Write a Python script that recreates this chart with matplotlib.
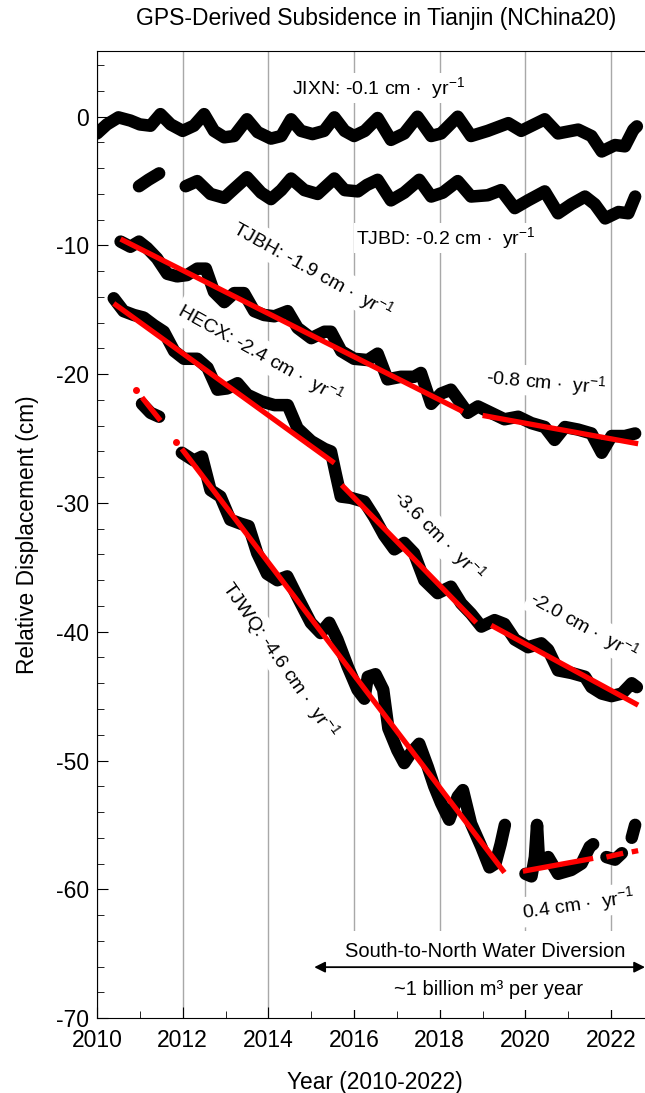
import numpy as np
import matplotlib
matplotlib.use('Agg')
import matplotlib.pyplot as plt
from matplotlib.ticker import MultipleLocator
from matplotlib.patches import Rectangle

plt.rcParams['font.family'] = ['Liberation Sans', 'DejaVu Sans']
plt.rcParams['mathtext.fontset'] = 'custom'
plt.rcParams['mathtext.rm'] = 'Liberation Sans'
plt.rcParams['mathtext.it'] = 'Liberation Sans:italic'
plt.rcParams['axes.unicode_minus'] = False

nan = np.nan

# GPS series (year, displacement in cm); nan = data gap
jixn_t = [2010.0, 2010.23, 2010.5, 2010.78, 2011.0, 2011.25, 2011.48, 2011.72, 2012.0, 2012.26,
          2012.5, 2012.73, 2012.97, 2013.2, 2013.5, 2013.75, 2014.06, 2014.3, 2014.53, 2014.76,
          2015.03, 2015.3, 2015.54, 2015.78, 2016.0, 2016.25, 2016.55, 2016.86, 2017.17, 2017.48,
          2017.8, 2018.03, 2018.42, 2018.73, 2019.12, 2019.6, 2019.9, 2020.45, 2020.76, 2021.23,
          2021.54, 2021.78, 2022.09, 2022.32, 2022.52, 2022.6]
jixn_v = [-1.3, -0.6, -0.05, -0.3, -0.6, -0.7, 0.2, -0.6, -1.1, -0.7,
          0.2, -1.1, -1.6, -1.5, -0.2, -1.2, -1.7, -1.5, -0.2, -1.1,
          -1.35, -1.1, -0.05, -1.1, -1.5, -1.1, -0.1, -1.8, -1.3, 0.0,
          -1.5, -1.3, 0.0, -1.5, -1.1, -0.5, -1.1, -0.2, -1.3, -1.0,
          -1.5, -2.7, -2.2, -2.3, -1.0, -0.75]

tjbd_t = [2010.98, 2011.2, 2011.45, nan,
          2012.07, 2012.34, 2012.65, 2012.97, 2013.2, 2013.5, 2013.83, 2014.06, 2014.3, 2014.53,
          2014.84, 2015.15, 2015.54, 2015.78, 2016.09, 2016.3, 2016.55, 2016.86, 2017.17, 2017.52,
          2017.8, 2018.07, 2018.42, 2018.73, 2019.12, 2019.43, 2019.75, 2020.06, 2020.45, 2020.76,
          2021.07, 2021.39, 2021.62, 2021.86, 2022.17, 2022.4, 2022.56]
tjbd_v = [-5.4, -4.9, -4.4, nan,
          -5.4, -5.0, -6.0, -6.3, -5.6, -4.7, -5.9, -6.4, -5.7, -4.8,
          -5.7, -6.0, -4.8, -5.7, -5.8, -5.3, -4.9, -6.5, -5.9, -4.9,
          -6.2, -5.9, -5.0, -6.2, -6.1, -5.7, -7.1, -6.5, -5.8, -7.5,
          -6.8, -6.2, -6.8, -7.9, -7.4, -7.5, -6.2]

tjbh_t = [2010.55, 2010.78, 2010.98, 2011.17, 2011.4, 2011.64, 2011.87, 2012.1, 2012.34, 2012.54,
          2012.73, 2012.97, 2013.2, 2013.43, 2013.67, 2013.9, 2014.14, 2014.45, 2014.68, 2015.0,
          2015.31, 2015.46, 2015.7, 2016.0, 2016.32, 2016.55, 2016.78, 2017.09, 2017.4, 2017.56,
          2017.8, 2018.03, 2018.26, 2018.5, 2018.65, 2018.89, 2019.2, 2019.51, 2019.83, 2020.14,
          2020.45, 2020.68, 2020.92, 2021.23, 2021.54, 2021.78, 2022.01, 2022.32, 2022.56]
tjbh_v = [-9.7, -10.1, -9.7, -10.2, -11.0, -12.2, -12.4, -12.3, -11.8, -11.8,
          -13.6, -14.4, -13.7, -13.7, -15.1, -15.4, -15.5, -15.1, -16.4, -17.2,
          -16.7, -16.7, -18.2, -18.8, -18.9, -18.4, -20.4, -20.2, -20.2, -19.9,
          -22.3, -21.5, -21.2, -22.3, -23.0, -22.5, -23.0, -23.5, -23.3, -23.8,
          -24.1, -25.1, -24.1, -24.3, -24.6, -26.1, -24.8, -24.8, -24.6]

hecx_t = [2010.39, 2010.62, 2010.86, 2011.09, 2011.33, 2011.56, 2011.8, 2012.03, 2012.34, 2012.58,
          2012.81, 2013.04, 2013.28, 2013.51, 2013.83, 2014.14, 2014.45, 2014.68, 2015.0, 2015.31,
          2015.46, 2015.57, 2015.69, 2015.92, 2016.24, 2016.47, 2016.7, 2016.94, 2017.17, 2017.4,
          2017.64, 2017.95, 2018.26, 2018.5, 2018.73, 2018.97, 2019.28, 2019.51, 2019.75, 2020.06,
          2020.37, 2020.53, 2020.76, 2021.07, 2021.39, 2021.54, 2021.78, 2022.01, 2022.25, 2022.48,
          2022.6]
hecx_v = [-14.1, -15.1, -15.4, -15.6, -16.2, -16.7, -18.2, -18.8, -18.8, -19.5,
          -21.2, -21.1, -20.7, -21.6, -22.1, -22.4, -22.4, -24.2, -25.2, -25.8,
          -26.0, -27.7, -29.5, -29.6, -29.9, -31.1, -32.5, -33.6, -33.1, -33.9,
          -36.0, -37.0, -36.5, -37.8, -38.6, -39.6, -39.1, -39.4, -40.6, -41.2,
          -40.9, -41.4, -43.0, -43.2, -43.5, -44.3, -44.8, -45.0, -44.8, -44.0,
          -44.3]

tjwq_t = [2011.05, 2011.25, 2011.45, nan,
          2011.98, 2012.26, 2012.45, 2012.65, 2012.88, 2013.11, 2013.35, 2013.54, 2013.74, 2013.97,
          2014.21, 2014.44, 2014.68, 2014.99, 2015.22, 2015.42, 2015.61, 2015.85, 2016.08, 2016.24,
          2016.32, 2016.5, 2016.68, 2016.8, 2017.01, 2017.17, 2017.33, 2017.52, 2017.72, 2017.87,
          2018.03, 2018.22, 2018.42, 2018.54, 2018.73, 2018.97, 2019.16, 2019.3, 2019.42, 2019.52, nan,
          2020.0, 2020.14, 2020.22, 2020.27, 2020.32, 2020.53, 2020.76, 2021.07, 2021.31, 2021.5,
          2021.58, nan,
          2021.89, 2022.09, 2022.25, nan,
          2022.48, 2022.56]
tjwq_v = [-22.3, -23.0, -23.3, nan,
          -26.1, -26.7, -26.4, -29.0, -29.5, -31.3, -31.6, -31.8, -33.9, -35.5,
          -36.0, -35.7, -37.3, -39.3, -40.1, -39.3, -40.6, -42.7, -44.5, -45.2,
          -43.5, -43.3, -44.5, -47.5, -49.2, -50.2, -49.4, -48.7, -50.5, -52.0,
          -53.3, -54.6, -52.8, -52.3, -54.9, -56.7, -58.3, -58.0, -56.5, -55.0, nan,
          -58.8, -59.0, -57.5, -55.0, -58.0, -57.5, -58.8, -58.5, -58.0, -56.7,
          -56.5, nan,
          -57.5, -57.7, -57.2, nan,
          -56.0, -55.0]

# linear trend segments (red)
tjbh_fit_t = [2010.55, 2018.54, nan, 2019.0, 2022.63]
tjbh_fit_v = [-9.5, -22.9, nan, -23.2, -25.4]
hecx_fit_t = [2010.39, 2015.54, nan, 2015.71, 2018.85, nan, 2019.2, 2022.63]
hecx_fit_v = [-14.5, -26.9, nan, -28.6, -39.3, nan, -39.5, -45.7]
tjwq_fit_t = [2011.05, 2011.48, nan, 2011.98, 2019.51, nan, 2019.94, 2021.58, nan,
              2021.89, 2022.28, nan, 2022.48, 2022.63]
tjwq_fit_v = [-21.8, -23.6, nan, -25.8, -58.7, nan, -58.6, -57.6, nan,
              -57.5, -57.2, nan, -57.1, -57.0]
tjwq_dot_t = [2010.9, 2011.85]
tjwq_dot_v = [-21.2, -25.3]

rate = r' cm $\cdot$  yr$^{-1}$'
labels = [
    ('JIXN: -0.1' + rate, 2016.56, 2.25, 0),
    ('TJBD: -0.2' + rate, 2018.15, -9.4, 0),
    ('TJBH: -1.9' + rate, 2015.04, -11.9, -29),
    ('HECX: -2.4' + rate, 2013.81, -18.4, -29),
    ('-0.8' + rate, 2020.48, -20.6, -5),
    ('-3.6' + rate, 2017.96, -32.5, -45),
    ('-2.0' + rate, 2021.35, -39.5, -29),
    ('TJWQ: -4.6' + rate, 2014.27, -42.2, -55),
    ('0.4' + rate, 2021.23, -61.2, 8),
]

fig = plt.figure(figsize=(6.45, 10.93), dpi=100)
ax = fig.add_axes([0.1504, 0.0686, 0.8496, 0.8847])

for t, v in [(jixn_t, jixn_v), (tjbd_t, tjbd_v), (tjbh_t, tjbh_v), (hecx_t, hecx_v), (tjwq_t, tjwq_v)]:
    ax.plot(t, v, color='black', lw=9, solid_capstyle='round', solid_joinstyle='round', zorder=2)

for t, v in [(tjbh_fit_t, tjbh_fit_v), (hecx_fit_t, hecx_fit_v), (tjwq_fit_t, tjwq_fit_v)]:
    ax.plot(t, v, color='red', lw=3.8, solid_capstyle='butt', zorder=3)
ax.plot(tjwq_dot_t, tjwq_dot_v, 'o', color='red', ms=4, zorder=3)

for txt, x, y, rot in labels:
    ax.text(x, y, txt, fontsize=14, rotation=rot, rotation_mode='anchor', ha='center', va='center',
            bbox=dict(facecolor='white', edgecolor='none', pad=1.5), zorder=5)

# water diversion annotation
ax.add_patch(Rectangle((2015.55, -69.35), 8, 6.1, facecolor='white', edgecolor='none', zorder=1.5))
ax.text(2019.05, -64.8, 'South-to-North Water Diversion', fontsize=14.5, ha='center', va='center', zorder=5)
ax.text(2019.15, -67.75, '~1 billion m³ per year', fontsize=14.5, ha='center', va='center', zorder=5)
ax.annotate('', xy=(2022.79, -66.05), xytext=(2015.07, -66.05),
            arrowprops=dict(arrowstyle='<|-|>', color='black', lw=1.3, mutation_scale=16,
                            shrinkA=0, shrinkB=0), annotation_clip=False, zorder=6)

ax.set_xlim(2010, 2022.79)
ax.set_ylim(-70, 5.1)
ax.xaxis.set_major_locator(MultipleLocator(2))
ax.xaxis.set_minor_locator(MultipleLocator(1))
ax.yaxis.set_major_locator(MultipleLocator(10))
ax.yaxis.set_minor_locator(MultipleLocator(2))
ax.tick_params(which='both', direction='in', labelsize=16.5, top=False, right=False)
ax.tick_params(which='major', length=8)
ax.tick_params(axis='x', which='major', pad=8)
ax.tick_params(axis='y', which='major', pad=6)
ax.tick_params(which='minor', length=5)
ax.grid(axis='x', which='major', color='#a8a8a8', lw=1)
ax.set_axisbelow(True)
ax.spines['right'].set_visible(False)

fig.text(0.583, 0.983, 'GPS-Derived Subsidence in Tianjin (NChina20)', fontsize=16.5, ha='center', va='center')
fig.text(0.042, 0.511, 'Relative Displacement (cm)', fontsize=16.4, rotation=90, ha='center', va='center')
fig.text(0.581, 0.010, 'Year (2010-2022)', fontsize=16.4, ha='center', va='center')

fig.savefig('out.png', dpi=100)
